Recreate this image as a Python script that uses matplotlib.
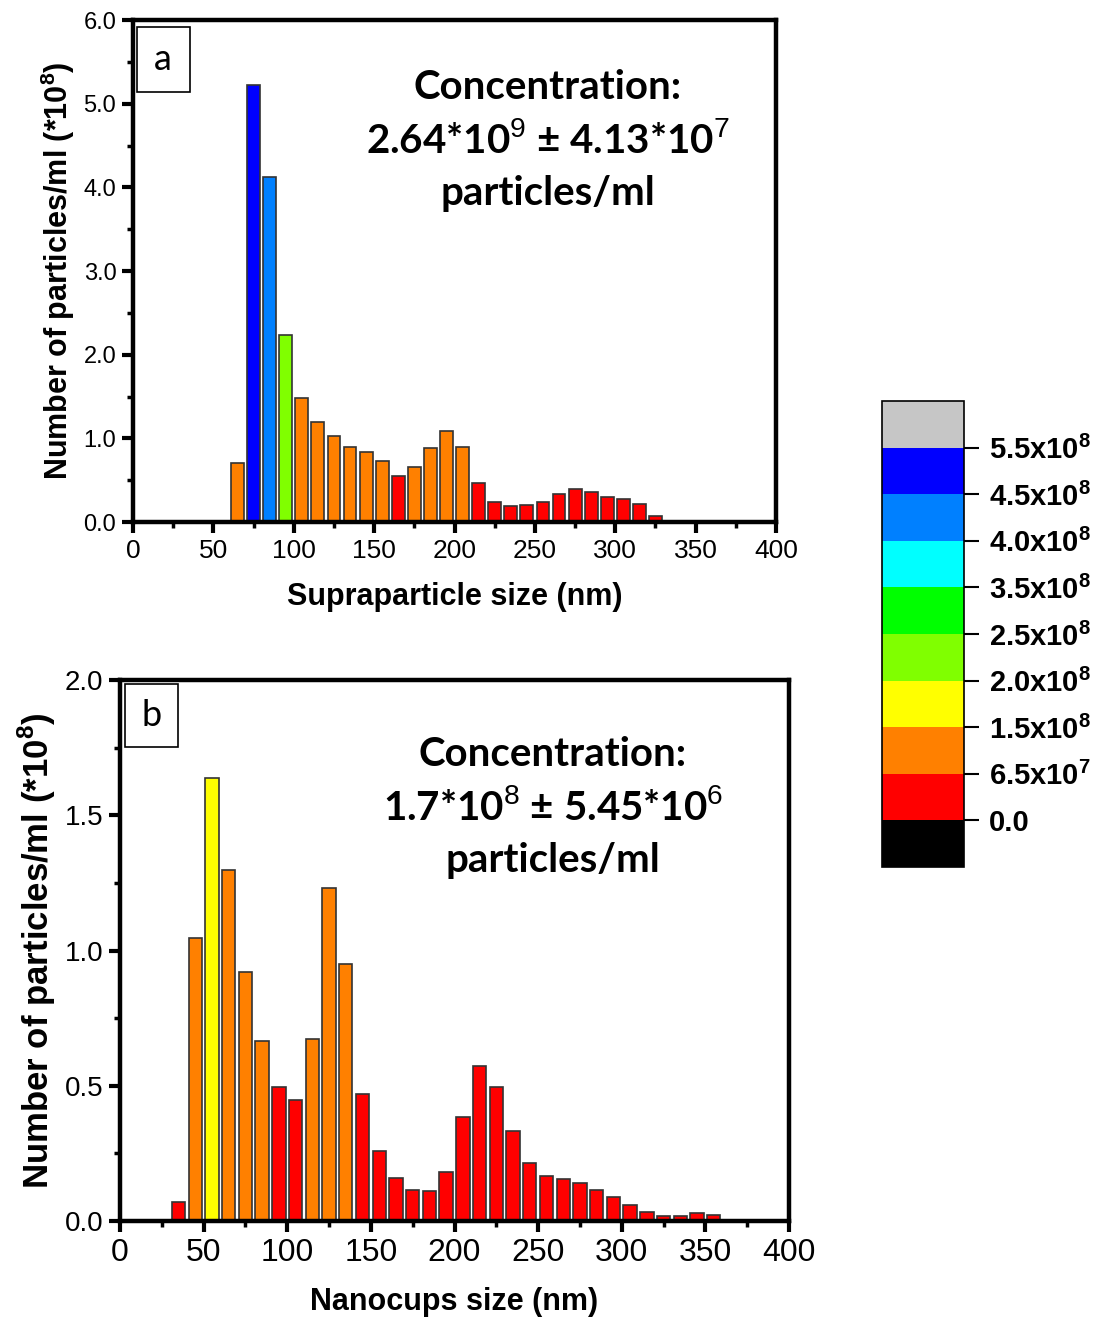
import numpy as np
import matplotlib
matplotlib.use('Agg')
import matplotlib.pyplot as plt
from matplotlib.colors import ListedColormap, BoundaryNorm
from matplotlib.cm import ScalarMappable
from matplotlib.patches import Rectangle

plt.rcParams['font.family'] = ['Liberation Sans', 'DejaVu Sans']
plt.rcParams['mathtext.fontset'] = 'custom'
plt.rcParams['mathtext.rm'] = 'Liberation Sans'
plt.rcParams['mathtext.bf'] = 'Liberation Sans:bold'

# size bins (nm), bin centres
size_a = [65, 75, 85, 95, 105, 115, 125, 135, 145, 155, 165, 175, 185, 195,
          205, 215, 225, 235, 245, 255, 265, 275, 285, 295, 305, 315, 325]
# particles/ml (*1e8)
count_a = [0.70, 5.22, 4.13, 2.23, 1.48, 1.20, 1.03, 0.90, 0.84, 0.73, 0.55,
           0.66, 0.88, 1.09, 0.90, 0.47, 0.24, 0.19, 0.20, 0.24, 0.34, 0.40,
           0.36, 0.30, 0.28, 0.21, 0.07]

size_b = [35, 45, 55, 65, 75, 85, 95, 105, 115, 125, 135, 145, 155, 165, 175,
          185, 195, 205, 215, 225, 235, 245, 255, 265, 275, 285, 295, 305,
          315, 325, 335, 345, 355]
count_b = [0.072, 1.047, 1.636, 1.296, 0.919, 0.665, 0.496, 0.447, 0.673,
           1.231, 0.951, 0.468, 0.259, 0.160, 0.115, 0.111, 0.183, 0.385,
           0.572, 0.496, 0.332, 0.216, 0.168, 0.157, 0.141, 0.115, 0.090,
           0.060, 0.035, 0.020, 0.020, 0.028, 0.022]

# colour scale (*1e8)
bounds = [0, 0.65, 1.5, 2.0, 2.5, 3.5, 4.0, 4.5, 5.5]
bound_labels = ['0.0', r'6.5x10$^{\mathbf{7}}$', r'1.5x10$^{\mathbf{8}}$',
                r'2.0x10$^{\mathbf{8}}$', r'2.5x10$^{\mathbf{8}}$',
                r'3.5x10$^{\mathbf{8}}$', r'4.0x10$^{\mathbf{8}}$',
                r'4.5x10$^{\mathbf{8}}$', r'5.5x10$^{\mathbf{8}}$']
scale_colors = ['#FF0000', '#FF8000', '#FFFF00', '#80FF00', '#00FF00',
                '#00FFFF', '#0080FF', '#0000FF']

cmap = ListedColormap(scale_colors)
cmap.set_under('#000000')
cmap.set_over('#C6C6C6')
norm = BoundaryNorm(bounds, cmap.N)

conc_font = ['Lato', 'DejaVu Sans']


def style_axes(ax, ymax, ystep, xtick_fs, ytick_fs):
    for sp in ax.spines.values():
        sp.set_linewidth(3.2)
    ax.set_xlim(0, 400)
    ax.set_ylim(0, ymax)
    ax.set_xticks(np.arange(0, 401, 50))
    ax.set_xticks(np.arange(25, 400, 50), minor=True)
    ax.set_yticks(np.arange(0, ymax + 1e-9, ystep))
    ax.set_yticks(np.arange(ystep / 2, ymax, ystep), minor=True)
    ax.yaxis.set_major_formatter(plt.FormatStrFormatter('%.1f'))
    ax.tick_params(which='major', direction='out', length=8, width=3, pad=4)
    ax.tick_params(axis='x', labelsize=xtick_fs)
    ax.tick_params(axis='y', labelsize=ytick_fs)
    ax.tick_params(which='minor', direction='out', length=4, width=2.5)
    ax.tick_params(top=False, right=False, which='both')


def draw_panel(ax, sizes, counts, letter, box, conc_lines, conc_pos, conc_fs):
    colors = [cmap(norm(v)) for v in counts]
    ax.bar(sizes, counts, width=8, color=colors, edgecolor='#333333',
           linewidth=1.2, zorder=2)
    ax.add_patch(Rectangle((box[0], box[1]), box[2], box[3],
                           transform=ax.transAxes, fill=False,
                           edgecolor='black', linewidth=1.2, zorder=3))
    ax.text(box[0] + box[2] / 2, box[1] + box[3] / 2, letter,
            transform=ax.transAxes, ha='center', va='center',
            fontsize=26, family=conc_font, zorder=4)
    x, y0, dy = conc_pos
    for i, line in enumerate(conc_lines):
        ax.text(x, y0 - i * dy, line, transform=ax.transAxes, ha='center',
                va='center', fontsize=conc_fs, fontweight='bold',
                family=conc_font)


fig = plt.figure(figsize=(11.02, 13.22), dpi=100)

ax_a = fig.add_axes([0.1207, 0.6051, 0.5835, 0.3797])
style_axes(ax_a, 6.0, 1.0, 19, 17)
draw_panel(ax_a, size_a, count_a, 'a', (0.006, 0.857, 0.082, 0.129),
           ['Concentration:', r'2.64*10$^{9}$ ± 4.13*10$^{7}$',
            'particles/ml'],
           (0.645, 0.865, 0.105), 29)
ax_a.set_xlabel('Supraparticle size (nm)', fontsize=22, fontweight='bold',
                labelpad=14)
ax_a.set_ylabel(r'Number of particles/ml (*10$^{\mathbf{8}}$)', fontsize=22,
                fontweight='bold', labelpad=5)

ax_b = fig.add_axes([0.1089, 0.0764, 0.6071, 0.4092])
style_axes(ax_b, 2.0, 0.5, 23, 20)
draw_panel(ax_b, size_b, count_b, 'b', (0.0075, 0.876, 0.079, 0.117),
           ['Concentration:', r'1.7*10$^{8}$ ± 5.45*10$^{6}$',
            'particles/ml'],
           (0.647, 0.863, 0.098), 29)
ax_b.set_xlabel('Nanocups size (nm)', fontsize=22, fontweight='bold',
                labelpad=14)
ax_b.set_ylabel(r'Number of particles/ml (*10$^{\mathbf{8}}$)', fontsize=25,
                fontweight='bold', labelpad=5)

cax = fig.add_axes([0.8004, 0.3442, 0.0744, 0.3525])
cb = fig.colorbar(ScalarMappable(norm=norm, cmap=cmap), cax=cax,
                  extend='both', extendrect=True, extendfrac=0.125,
                  ticks=bounds)
cb.ax.set_yticklabels(bound_labels)
cb.outline.set_linewidth(1.2)
cb.ax.tick_params(length=11, width=1.5, labelsize=21, pad=7)
for t in cb.ax.get_yticklabels():
    t.set_fontweight('bold')

fig.savefig('out.png', dpi=100)
